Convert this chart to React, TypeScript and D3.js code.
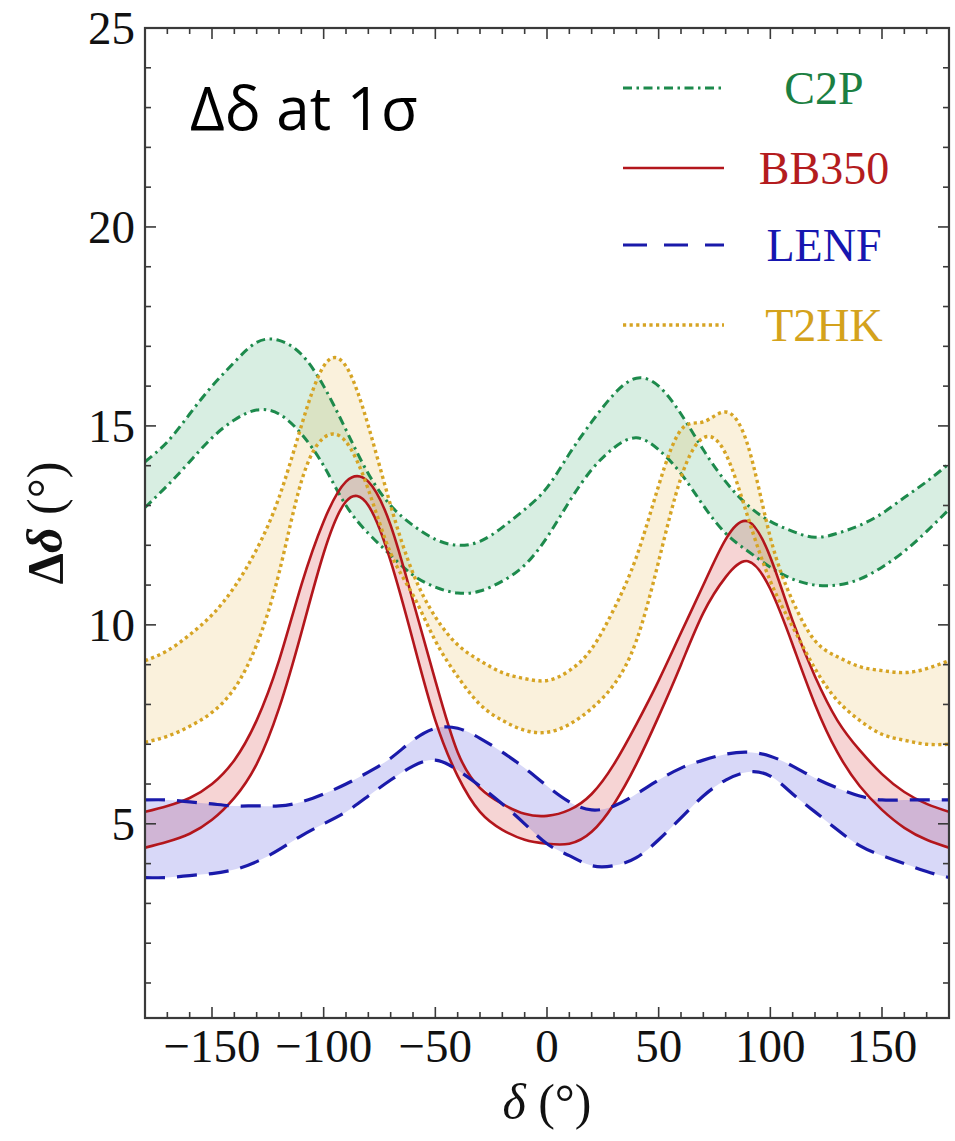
import { useEffect, useRef } from "react"
import * as d3 from "d3"

// delta values (degrees) at which the bands were read
const deltaGrid = [
  -180, -170, -160, -150, -140, -130, -120, -110, -100, -90, -80, -70, -60, -50,
  -40, -30, -20, -10, 0, 10, 20, 30, 40, 50, 60, 70, 80, 90, 100, 110, 120, 130,
  140, 150, 160, 170, 180,
]

const c2pUpper = [
  14.1, 14.6, 15.3, 16.0, 16.6, 17.1, 17.15, 16.8, 16.0, 14.9, 13.8, 13.0, 12.5,
  12.15, 12.0, 12.1, 12.45, 12.9, 13.45, 14.3, 15.1, 15.8, 16.2, 16.0, 15.3, 14.4,
  13.6, 13.0, 12.6, 12.35, 12.2, 12.3, 12.5, 12.8, 13.2, 13.6, 14.05,
]
const c2pLower = [
  12.95, 13.5, 14.1, 14.7, 15.15, 15.4, 15.3, 14.8, 14.0, 13.0, 12.3, 11.75, 11.25,
  10.95, 10.8, 10.85, 11.1, 11.5, 12.2, 13.1, 13.9, 14.45, 14.7, 14.4, 13.8, 13.0,
  12.3, 11.85, 11.45, 11.15, 11.0, 11.0, 11.15, 11.45, 11.85, 12.35, 12.9,
]
const bb350Upper = [
  5.3, 5.45, 5.65, 6.0, 6.6, 7.6, 9.1, 11.0, 12.6, 13.6, 13.6, 12.5, 10.6, 8.6, 6.8,
  5.9, 5.5, 5.25, 5.2, 5.35, 5.75, 6.5, 7.5, 8.6, 9.8, 11.0, 12.15, 12.6, 11.7,
  10.1, 8.7, 7.6, 6.85, 6.25, 5.8, 5.5, 5.3,
]
const bb350Lower = [
  4.4, 4.55, 4.75, 5.1, 5.65, 6.5, 7.9, 9.8, 11.8, 13.1, 13.0, 11.6, 9.6, 7.6, 6.2,
  5.3, 4.85, 4.6, 4.5, 4.5, 4.8, 5.5, 6.5, 7.7, 9.0, 10.3, 11.2, 11.6, 10.9, 9.5,
  8.0, 6.8, 5.95, 5.35, 4.9, 4.6, 4.4,
]
const lenfUpper = [
  5.6, 5.6, 5.55, 5.5, 5.45, 5.45, 5.45, 5.55, 5.75, 6.0, 6.3, 6.65, 7.1, 7.4, 7.4,
  7.15, 6.8, 6.4, 5.95, 5.55, 5.35, 5.45, 5.75, 6.1, 6.4, 6.6, 6.75, 6.8, 6.7,
  6.45, 6.15, 5.9, 5.7, 5.6, 5.6, 5.6, 5.6,
]
const lenfLower = [
  3.65, 3.65, 3.7, 3.75, 3.85, 4.05, 4.35, 4.7, 5.0, 5.3, 5.7, 6.1, 6.45, 6.6, 6.35,
  5.95, 5.5, 5.0, 4.5, 4.2, 3.95, 3.95, 4.15, 4.6, 5.15, 5.7, 6.1, 6.3, 6.2, 5.75,
  5.3, 4.85, 4.45, 4.2, 4.0, 3.8, 3.65,
]
const t2hkUpper = [
  9.1, 9.35, 9.75, 10.25, 10.95, 11.9, 13.2, 15.0, 16.5, 16.5, 15.0, 13.0, 11.3, 10.2,
  9.5, 9.1, 8.8, 8.65, 8.6, 8.85, 9.4, 10.4, 11.7, 13.5, 14.9, 15.1, 15.35, 14.5,
  12.2, 10.6, 9.6, 9.2, 8.95, 8.85, 8.8, 8.9, 9.1,
]
const t2hkLower = [
  7.05, 7.2, 7.45, 7.8, 8.4, 9.5, 11.3, 13.6, 14.7, 14.6, 13.4, 11.8, 10.75, 9.6,
  8.7, 8.0, 7.6, 7.35, 7.3, 7.5, 7.9, 8.5, 9.6, 11.6, 13.7, 14.7, 14.3, 12.7, 11.1,
  9.95, 8.9, 8.1, 7.6, 7.25, 7.1, 7.0, 7.0,
]

const xTicks = [-150, -100, -50, 0, 50, 100, 150]
const yTicks = [5, 10, 15, 20, 25]

const experiments = [
  { name: "C2P", upper: c2pUpper, lower: c2pLower, stroke: "#1d8a4c", text: "#1b7f42", fill: "rgba(60,170,110,0.2)", dash: "9,4.5,2.5,4.5", legendDash: "9,4.5,2.5,4.5", width: 3 },
  { name: "BB350", upper: bb350Upper, lower: bb350Lower, stroke: "#b3161c", text: "#b41c1e", fill: "rgba(210,40,40,0.2)", dash: null, legendDash: null, width: 2.6 },
  { name: "LENF", upper: lenfUpper, lower: lenfLower, stroke: "#1a1aaa", text: "#1616b0", fill: "rgba(60,60,220,0.2)", dash: "20,12", legendDash: "24,17", width: 3.2 },
  { name: "T2HK", upper: t2hkUpper, lower: t2hkLower, stroke: "#d6a424", text: "#d4a21c", fill: "rgba(230,180,60,0.18)", dash: "3.2,3.4", legendDash: "3.2,3.4", width: 3.4 },
]

const W = 955
const H = 1141
const margin = { left: 145, right: 6, top: 28, bottom: 123 }

export default function App() {
  const ref = useRef(null)

  useEffect(() => {
    const svg = d3.select(ref.current)
    svg.selectAll("*").remove()

    const x = d3.scaleLinear().domain([-180, 180]).range([margin.left, W - margin.right])
    const y = d3.scaleLinear().domain([0.12, 25]).range([H - margin.bottom, margin.top])
    const [x0, x1] = x.range()
    const [yB, yT] = y.range()

    svg.append("rect").attr("width", W).attr("height", H).attr("fill", "#fff")

    svg.append("clipPath").attr("id", "plot-clip")
      .append("rect").attr("x", x0).attr("y", yT).attr("width", x1 - x0).attr("height", yB - yT)

    const plot = svg.append("g").attr("clip-path", "url(#plot-clip)")

    const curve = d3.curveNatural
    const area = d3.area()
      .x((d) => x(d[0]))
      .y0((d) => y(d[1]))
      .y1((d) => y(d[2]))
      .curve(curve)
    const line = d3.line().x((d) => x(d[0])).y((d) => y(d[1])).curve(curve)

    experiments.forEach((e) => {
      const rows = deltaGrid.map((d, i) => [d, e.lower[i], e.upper[i]])
      plot.append("path").attr("d", area(rows)).attr("fill", e.fill)
    })

    experiments.forEach((e) => {
      ;[e.upper, e.lower].forEach((vals) => {
        plot.append("path")
          .attr("d", line(deltaGrid.map((d, i) => [d, vals[i]])))
          .attr("fill", "none")
          .attr("stroke", e.stroke)
          .attr("stroke-width", e.width)
          .attr("stroke-dasharray", e.dash)
      })
    })

    // frame and ticks on all four sides, pointing inward
    const axisColor = "#3a3a3a"
    svg.append("rect")
      .attr("x", x0).attr("y", yT).attr("width", x1 - x0).attr("height", yB - yT)
      .attr("fill", "none").attr("stroke", axisColor).attr("stroke-width", 2.2)

    const ticks = svg.append("g").attr("stroke", axisColor).attr("stroke-width", 1.6)
    d3.range(-170, 180, 10).forEach((v) => {
      const len = v % 50 === 0 ? 11 : 6
      ticks.append("line").attr("x1", x(v)).attr("x2", x(v)).attr("y1", yB).attr("y2", yB - len)
      ticks.append("line").attr("x1", x(v)).attr("x2", x(v)).attr("y1", yT).attr("y2", yT + len)
    })
    d3.range(1, 25, 1).forEach((v) => {
      const len = v % 5 === 0 ? 11 : 6
      ticks.append("line").attr("y1", y(v)).attr("y2", y(v)).attr("x1", x0).attr("x2", x0 + len)
      ticks.append("line").attr("y1", y(v)).attr("y2", y(v)).attr("x1", x1).attr("x2", x1 - len)
    })

    const serif = "'Times New Roman', 'Liberation Serif', Times, serif"
    svg.append("g").selectAll("text").data(xTicks).join("text")
      .attr("x", (d) => x(d)).attr("y", yB + 44)
      .attr("text-anchor", "middle")
      .attr("font-family", serif).attr("font-size", 47).attr("fill", "#111")
      .text((d) => (d < 0 ? "\u2212" + Math.abs(d) : String(d)))

    svg.append("g").selectAll("text").data(yTicks).join("text")
      .attr("x", x0 - 10).attr("y", (d) => y(d)).attr("dy", "0.35em")
      .attr("text-anchor", "end")
      .attr("font-family", serif).attr("font-size", 47).attr("fill", "#111")
      .text((d) => d)

    // axis titles
    const xl = svg.append("text")
      .attr("x", (x0 + x1) / 2).attr("y", H - 22)
      .attr("text-anchor", "middle")
      .attr("font-family", serif).attr("font-size", 50).attr("fill", "#111")
    xl.append("tspan").attr("font-style", "italic").text("\u03b4")
    xl.append("tspan").text(" (\u00b0)")

    const yl = svg.append("text")
      .attr("transform", `translate(62, ${(yT + yB) / 2}) rotate(-90)`)
      .attr("text-anchor", "middle")
      .attr("font-family", serif).attr("font-size", 50).attr("font-weight", "bold").attr("fill", "#111")
    yl.append("tspan").text("\u0394")
    yl.append("tspan").attr("font-style", "italic").text("\u03b4")
    yl.append("tspan").attr("font-weight", "normal").text(" (\u00b0)")

    // panel title
    svg.append("text")
      .attr("x", 190).attr("y", 130)
      .attr("font-family", "'Open Sans', 'DejaVu Sans', sans-serif")
      .attr("font-size", 60).attr("fill", "#000")
      .text("\u0394\u03b4 at 1\u03c3")

    // legend
    const legendY = [88, 168, 245, 325]
    const leg = svg.append("g")
    experiments.forEach((e, i) => {
      leg.append("line")
        .attr("x1", 623).attr("x2", 724).attr("y1", legendY[i]).attr("y2", legendY[i])
        .attr("stroke", e.stroke).attr("stroke-width", e.width)
        .attr("stroke-dasharray", e.legendDash)
      leg.append("text")
        .attr("x", 824).attr("y", legendY[i]).attr("dy", "0.35em")
        .attr("text-anchor", "middle")
        .attr("font-family", serif).attr("font-size", 46).attr("fill", e.text)
        .text(e.name)
    })
  }, [])

  return (
    <div style={{ position: "absolute", left: 0, top: 0 }}>
      <svg ref={ref} width={W} height={H} style={{ display: "block" }} />
    </div>
  )
}
